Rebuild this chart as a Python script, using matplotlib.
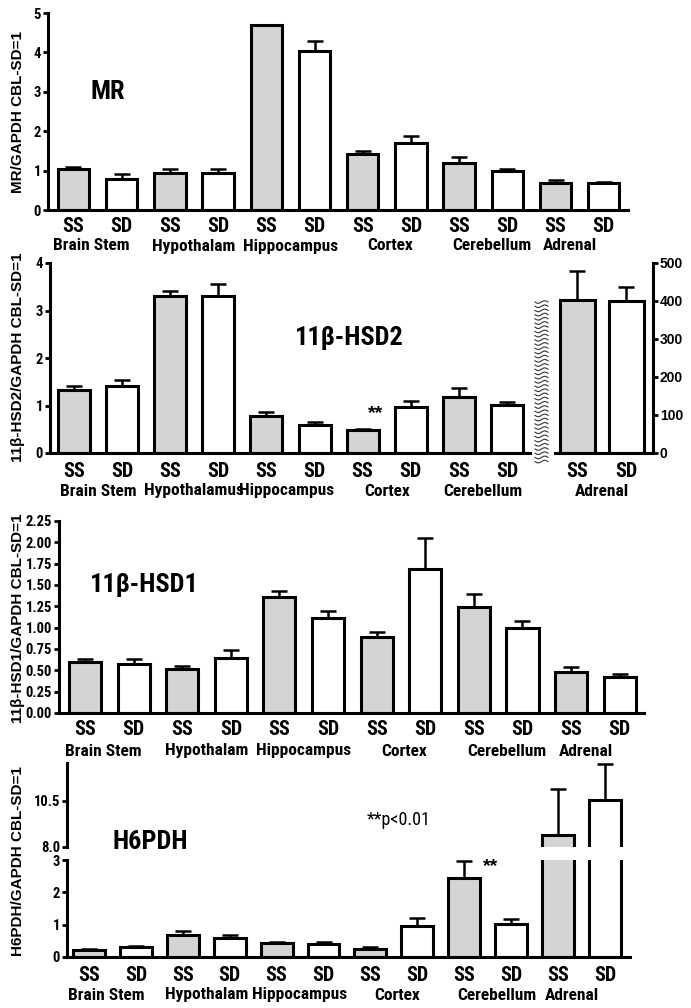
import numpy as np
import matplotlib
matplotlib.use("Agg")
import matplotlib.pyplot as plt
from matplotlib.lines import Line2D
from matplotlib import font_manager

plt.rcParams['font.family'] = ['Liberation Sans', 'DejaVu Sans']
plt.rcParams['font.weight'] = 'bold'

# narrow face for the category labels, if one is installed
installed = {f.name for f in font_manager.fontManager.ttflist}
NARROW = None
for cand in ["Liberation Sans Narrow", "Arial Narrow", "Roboto Condensed", "DejaVu Sans Condensed"]:
    if cand in installed:
        NARROW = cand
        break

# =========================
# Data
# =========================
conds = ["SS", "SD"]
groups = ["Brain Stem", "Hypothalam", "Hippocampus", "Cortex", "Cerebellum", "Adrenal"]
groups_hsd2 = ["Brain Stem", "Hypothalamus", "Hippocampus", "Cortex", "Cerebellum"]
groups_hsd2_adr = ["Adrenal"]

mr_mean = [1.03, 0.79, 0.95, 0.95, 4.70, 4.04, 1.41, 1.71, 1.20, 1.00, 0.68, 0.68]
mr_sem = [0.06, 0.12, 0.08, 0.08, 0.00, 0.25, 0.10, 0.17, 0.14, 0.03, 0.09, 0.04]

hsd2_mean = [1.32, 1.41, 3.31, 3.31, 0.78, 0.58, 0.49, 0.97, 1.18, 1.01]
hsd2_sem = [0.10, 0.12, 0.11, 0.25, 0.08, 0.07, 0.01, 0.12, 0.19, 0.07]
hsd2_adr_mean = [402, 400]
hsd2_adr_sem = [78, 36]

hsd1_mean = [0.60, 0.58, 0.52, 0.65, 1.355, 1.11, 0.895, 1.685, 1.24, 1.00, 0.48, 0.42]
hsd1_sem = [0.03, 0.05, 0.03, 0.09, 0.08, 0.09, 0.06, 0.36, 0.16, 0.08, 0.06, 0.04]

h6_mean = [0.21, 0.30, 0.68, 0.58, 0.42, 0.40, 0.26, 0.97, 2.44, 1.01, 8.65, 10.55]
h6_sem = [0.04, 0.04, 0.11, 0.09, 0.05, 0.06, 0.04, 0.25, 0.53, 0.16, 2.50, 1.95]

GRAY = "#d4d4d4"
W, H = 691, 1008

fig = plt.figure(figsize=(W / 100, H / 100), dpi=100)


def box(l, t, r, b):
    return [l / W, 1 - b / H, (r - l) / W, (b - t) / H]


def label_font(size):
    if NARROW:
        return dict(family=[NARROW, 'Liberation Sans'], fontsize=size)
    return dict(fontsize=size * 0.82)


def style_axis(ax, left=True, bottom=True, right=False):
    for s in ax.spines:
        ax.spines[s].set_visible(False)
        ax.spines[s].set_linewidth(2.2)
    ax.spines['left'].set_visible(left)
    ax.spines['bottom'].set_visible(bottom)
    ax.spines['right'].set_visible(right)
    ax.tick_params(axis='y', direction='out', length=3.5, width=2, pad=1.5)
    ax.tick_params(axis='x', length=0, pad=5)
    for t in ax.get_yticklabels():
        t.set(**label_font(10.5))
    ax.set_facecolor('none')


def draw_bars(ax, means, sems, width):
    x = np.arange(len(means))
    colors = [GRAY if i % 2 == 0 else "white" for i in range(len(means))]
    ax.bar(x, means, width, color=colors, edgecolor="black", linewidth=2.2, zorder=2)
    ax.errorbar(x, means, yerr=[np.zeros(len(means)), sems], fmt='none', ecolor="black",
                elinewidth=1.8, capsize=6, capthick=1.8, zorder=3)
    return x


def cond_ticks(ax, n):
    ax.set_xticks(np.arange(n), [conds[i % 2] for i in range(n)], **label_font(14.5))


def group_labels(ax, names, dy, offsets=None):
    for k, name in enumerate(names):
        dx = 0 if offsets is None else offsets[k]
        ax.annotate(name, xy=(2 * k + 0.5, 0), xycoords=('data', 'axes fraction'),
                    xytext=(dx, -dy), textcoords='offset pixels',
                    ha='center', va='center', **label_font(12.5))


def ylabel(y, txt):
    fig.text(18 / W, 1 - y / H, txt, rotation=90, ha='center', va='center', fontsize=11)


def title(x, y, txt, ha='left'):
    fig.text(x / W, 1 - y / H, txt, ha=ha, va='center', **label_font(19))


# ---------- MR ----------
ax1 = fig.add_axes(box(48, 13, 628, 210))
draw_bars(ax1, mr_mean, mr_sem, 0.65)
ax1.set_xlim(-0.529, 11.504)
ax1.set_ylim(0, 5)
ax1.set_yticks(range(0, 6))
cond_ticks(ax1, 12)
style_axis(ax1)
group_labels(ax1, groups, 36, [-6, 0, 0, 3, 9, -10])
title(90, 92, "MR")
ylabel(112, "MR/GAPDH CBL-SD=1")

# ---------- 11b-HSD2 ----------
ax2 = fig.add_axes(box(50, 263, 530, 453))
draw_bars(ax2, hsd2_mean, hsd2_sem, 0.665)
ax2.set_xlim(-0.499, 9.48)
ax2.set_ylim(0, 4)
ax2.set_yticks(range(0, 5))
cond_ticks(ax2, 10)
style_axis(ax2)
ax2.tick_params(axis='x', pad=6.5)
group_labels(ax2, groups_hsd2, 38, [0, 0, -4, 0, 0])
ax2.annotate("**", xy=(6, hsd2_mean[6] + hsd2_sem[6]), xytext=(13, 16),
             textcoords='offset pixels', ha='center', va='center', fontsize=14)

ax2r = fig.add_axes(box(555, 263, 653, 453))
draw_bars(ax2r, hsd2_adr_mean, hsd2_adr_sem, 0.71)
ax2r.set_xlim(-0.459, 1.541)
ax2r.set_ylim(0, 500)
ax2r.set_yticks(range(0, 501, 100))
cond_ticks(ax2r, 2)
style_axis(ax2r, left=False, right=True)
ax2r.yaxis.tick_right()
ax2r.tick_params(axis='x', pad=6.5)
group_labels(ax2r, groups_hsd2_adr, 38)
title(349, 338, "11β-HSD2", ha='center')
ylabel(357, "11β-HSD2/GAPDH CBL-SD=1")

# break mark between the two parts
for yy in np.arange(302, 464, 4.2):
    xs = np.linspace(535, 548, 20)
    ys = yy + 1.3 * np.sin((xs - 535) / 13 * 2 * np.pi)
    fig.add_artist(Line2D(xs / W, 1 - ys / H, color="#333333", lw=0.8,
                          transform=fig.transFigure))

# ---------- 11b-HSD1 ----------
ax3 = fig.add_axes(box(59, 521, 644, 713))
draw_bars(ax3, hsd1_mean, hsd1_sem, 0.66)
ax3.set_xlim(-0.535, 11.5)
ax3.set_ylim(0, 2.25)
ticks3 = np.arange(0, 2.26, 0.25)
ax3.set_yticks(ticks3, [f"{t:.2f}" for t in ticks3])
cond_ticks(ax3, 12)
style_axis(ax3)
group_labels(ax3, groups, 38, [-6, 0, 0, 3, 9, -10])
title(90, 585, "11β-HSD1")
ylabel(618, "11β-HSD1/GAPDH CBL-SD=1")

# ---------- H6PDH (broken axis) ----------
ax4u = fig.add_axes(box(67, 763, 630, 847))
ax4l = fig.add_axes(box(67, 860, 630, 957))
for ax in (ax4u, ax4l):
    draw_bars(ax, h6_mean, h6_sem, 0.68)
    ax.set_xlim(-0.469, 11.535)
ax4u.set_ylim(8, 12.56)
ax4u.set_yticks([8.0, 10.5], ["8.0", "10.5"])
ax4u.set_xticks([])
style_axis(ax4u, bottom=False)
ax4l.set_ylim(0, 3)
ax4l.set_yticks(range(0, 4))
cond_ticks(ax4l, 12)
style_axis(ax4l)
ax4l.tick_params(axis='x', pad=6.5)
group_labels(ax4l, groups, 38, [-6, 0, 0, 3, 9, -10])
ax4l.annotate("**", xy=(8, h6_mean[8] + h6_sem[8]), xytext=(26, -6),
              textcoords='offset pixels', ha='center', va='center', fontsize=14)
title(112, 842, "H6PDH")
fig.text(367 / W, 1 - 820 / H, "**p<0.01", va='center', fontweight='normal',
         **label_font(13))
ylabel(861, "H6PDH/GAPDH CBL-SD=1")

fig.savefig("out.png", dpi=100)
